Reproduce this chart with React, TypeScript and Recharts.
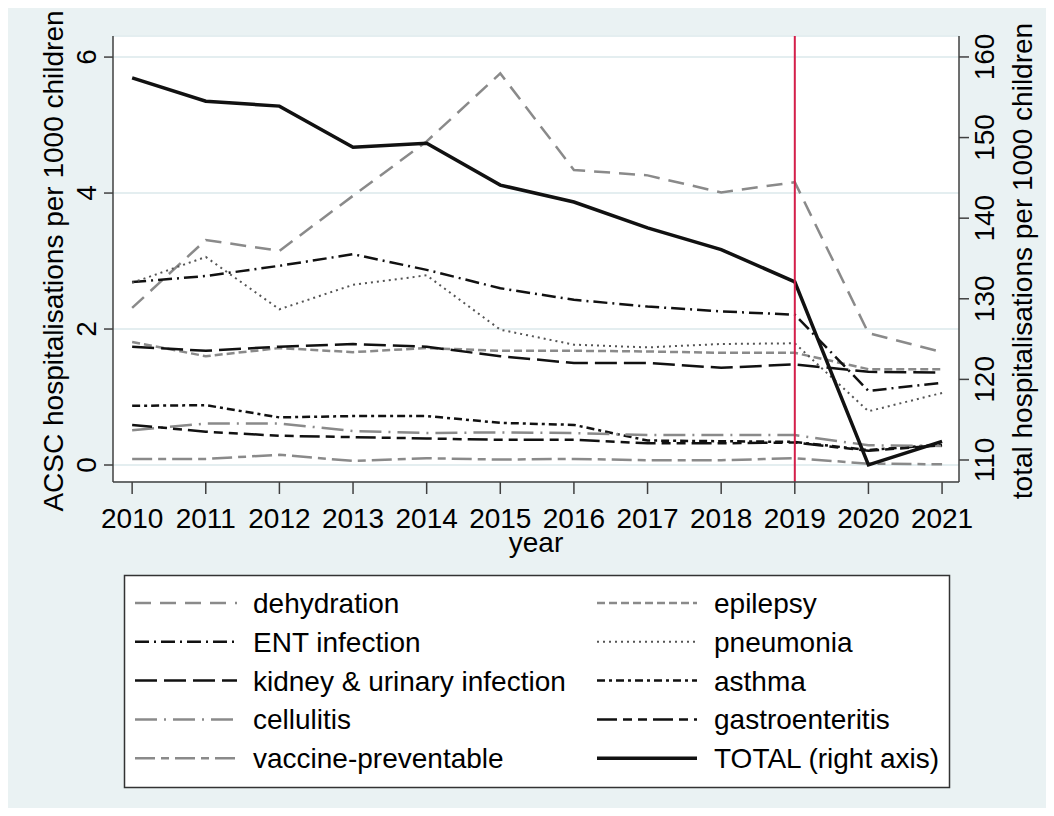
import { LineChart, Line, XAxis, YAxis, CartesianGrid, ReferenceLine } from "recharts";

// values (rates per 1000 children)
const years = [2010, 2011, 2012, 2013, 2014, 2015, 2016, 2017, 2018, 2019, 2020, 2021];
const dehydration = [2.31, 3.31, 3.15, 3.96, 4.76, 5.76, 4.34, 4.26, 4.01, 4.16, 1.94, 1.66];
const epilepsy = [1.81, 1.6, 1.72, 1.66, 1.72, 1.68, 1.68, 1.67, 1.65, 1.65, 1.41, 1.41];
const entInfection = [2.69, 2.78, 2.93, 3.1, 2.87, 2.6, 2.43, 2.33, 2.26, 2.21, 1.09, 1.21];
const pneumonia = [2.68, 3.06, 2.29, 2.65, 2.79, 1.99, 1.77, 1.73, 1.78, 1.79, 0.79, 1.06];
const kidneyUrinary = [1.74, 1.68, 1.74, 1.78, 1.74, 1.6, 1.5, 1.5, 1.43, 1.48, 1.37, 1.36];
const asthma = [0.87, 0.88, 0.7, 0.72, 0.72, 0.62, 0.59, 0.36, 0.35, 0.34, 0.22, 0.3];
const cellulitis = [0.51, 0.61, 0.61, 0.5, 0.47, 0.48, 0.47, 0.44, 0.44, 0.44, 0.29, 0.28];
const gastroenteritis = [0.59, 0.49, 0.43, 0.41, 0.39, 0.37, 0.37, 0.32, 0.32, 0.33, 0.21, 0.29];
const vaccinePreventable = [0.09, 0.09, 0.15, 0.06, 0.1, 0.08, 0.09, 0.07, 0.07, 0.1, 0.02, 0.01];
const total = [157.4, 154.5, 153.9, 148.8, 149.3, 144.1, 142.0, 138.8, 136.1, 132.1, 109.4, 112.3];

const leftTicks = [0, 2, 4, 6];
const rightTicks = [110, 120, 130, 140, 150, 160];

const GRAY = "#8a8a8a";
const BLACK = "#111";
const FONT = "'Liberation Sans', Arial, sans-serif";

// row-major order, same as the two-column legend
const series = [
  { key: "dehydration", name: "dehydration", values: dehydration, color: GRAY, width: 2.5, dash: "16 9", axis: "left" },
  { key: "epilepsy", name: "epilepsy", values: epilepsy, color: GRAY, width: 2.5, dash: "8 4", axis: "left" },
  { key: "ent", name: "ENT infection", values: entInfection, color: BLACK, width: 2.5, dash: "14 5 2 5", axis: "left" },
  { key: "pneumonia", name: "pneumonia", values: pneumonia, color: "#555", width: 2, dash: "2 4", axis: "left" },
  { key: "kidney", name: "kidney & urinary infection", values: kidneyUrinary, color: BLACK, width: 2.5, dash: "22 7", axis: "left" },
  { key: "asthma", name: "asthma", values: asthma, color: BLACK, width: 2.5, dash: "8 4 3 4", axis: "left" },
  { key: "cellulitis", name: "cellulitis", values: cellulitis, color: GRAY, width: 2.5, dash: "22 7 2 7", axis: "left" },
  { key: "gastro", name: "gastroenteritis", values: gastroenteritis, color: BLACK, width: 2.5, dash: "20 6 9 6 9 6", axis: "left" },
  { key: "vaccine", name: "vaccine-preventable", values: vaccinePreventable, color: GRAY, width: 2.5, dash: "20 6 8 6", axis: "left" },
  { key: "total", name: "TOTAL (right axis)", values: total, color: BLACK, width: 3.5, dash: undefined, axis: "right" },
];

const data = years.map((year, i) => {
  const row: Record<string, number> = { year };
  series.forEach((s) => (row[s.key] = s.values[i]));
  return row;
});

const textProps = { fontFamily: FONT, fontSize: 28, fill: "#000" };

const LeftTick = ({ y, payload }: any) => (
  <text x={88} y={y} transform={`rotate(-90, 88, ${y})`} textAnchor="middle" {...textProps}>
    {payload.value}
  </text>
);

const RightTick = ({ y, payload }: any) => (
  <text x={986} y={y} transform={`rotate(-90, 986, ${y})`} textAnchor="middle" {...textProps}>
    {payload.value}
  </text>
);

const XTick = ({ x, payload }: any) => (
  <text x={x} y={520} textAnchor="middle" {...textProps}>
    {payload.value}
  </text>
);

const axisStroke = { stroke: "#404040", strokeWidth: 1.5 };

export default function App() {
  return (
    <div style={{ position: "relative", width: 1038, height: 800, background: "#EAF2F3" }}>
      <LineChart width={1038} height={560} data={data} margin={{ top: 28, right: 27, bottom: 26, left: 45 }}>
        <CartesianGrid yAxisId="left" vertical={false} stroke="#E4EEF0" strokeWidth={2} fill="#fff" />
        <XAxis
          dataKey="year"
          type="number"
          domain={[2009.74, 2021.23]}
          ticks={years}
          interval={0}
          allowDataOverflow
          height={60}
          tickSize={12}
          axisLine={axisStroke}
          tickLine={axisStroke}
          tick={XTick}
        />
        <YAxis
          yAxisId="left"
          domain={[-0.25, 6.31]}
          ticks={leftTicks}
          allowDataOverflow
          width={60}
          tickSize={9}
          axisLine={axisStroke}
          tickLine={axisStroke}
          tick={LeftTick}
        />
        <YAxis
          yAxisId="right"
          orientation="right"
          domain={[107.27, 162.6]}
          ticks={rightTicks}
          allowDataOverflow
          width={60}
          tickSize={10}
          axisLine={axisStroke}
          tickLine={axisStroke}
          tick={RightTick}
        />
        {series.map((s) => (
          <Line
            key={s.key}
            yAxisId={s.axis}
            dataKey={s.key}
            name={s.name}
            type="linear"
            stroke={s.color}
            strokeWidth={s.width}
            strokeDasharray={s.dash}
            dot={false}
            activeDot={false}
            isAnimationActive={false}
          />
        ))}
        <ReferenceLine yAxisId="left" x={2019} stroke="#d41f4a" strokeWidth={2} />
      </LineChart>

      <svg width={1038} height={800} style={{ position: "absolute", left: 0, top: 0, pointerEvents: "none" }}>
        <text x={55} y={253} transform="rotate(-90, 55, 253)" textAnchor="middle" {...textProps}>
          ACSC hospitalisations per 1000 children
        </text>
        <text x={1024} y={253} transform="rotate(-90, 1024, 253)" textAnchor="middle" {...textProps}>
          total hospitalisations per 1000 children
        </text>
        <text x={528} y={544} textAnchor="middle" {...textProps}>
          year
        </text>

        {/* legend */}
        <rect x={116.5} y={567.5} width={825} height={212} fill="#fff" stroke="#333" strokeWidth={1.5} />
        {series.map((s, i) => {
          const col = i % 2;
          const row = Math.floor(i / 2);
          const base = 605 + row * 38.8;
          const x0 = col === 0 ? 127 : 589;
          const x1 = col === 0 ? 229 : 689;
          const tx = col === 0 ? 245 : 706;
          return (
            <g key={s.key}>
              <line x1={x0} x2={x1} y1={base - 10} y2={base - 10} stroke={s.color} strokeWidth={s.width} strokeDasharray={s.dash} />
              <text x={tx} y={base} {...textProps}>
                {s.name}
              </text>
            </g>
          );
        })}
      </svg>
    </div>
  );
}
